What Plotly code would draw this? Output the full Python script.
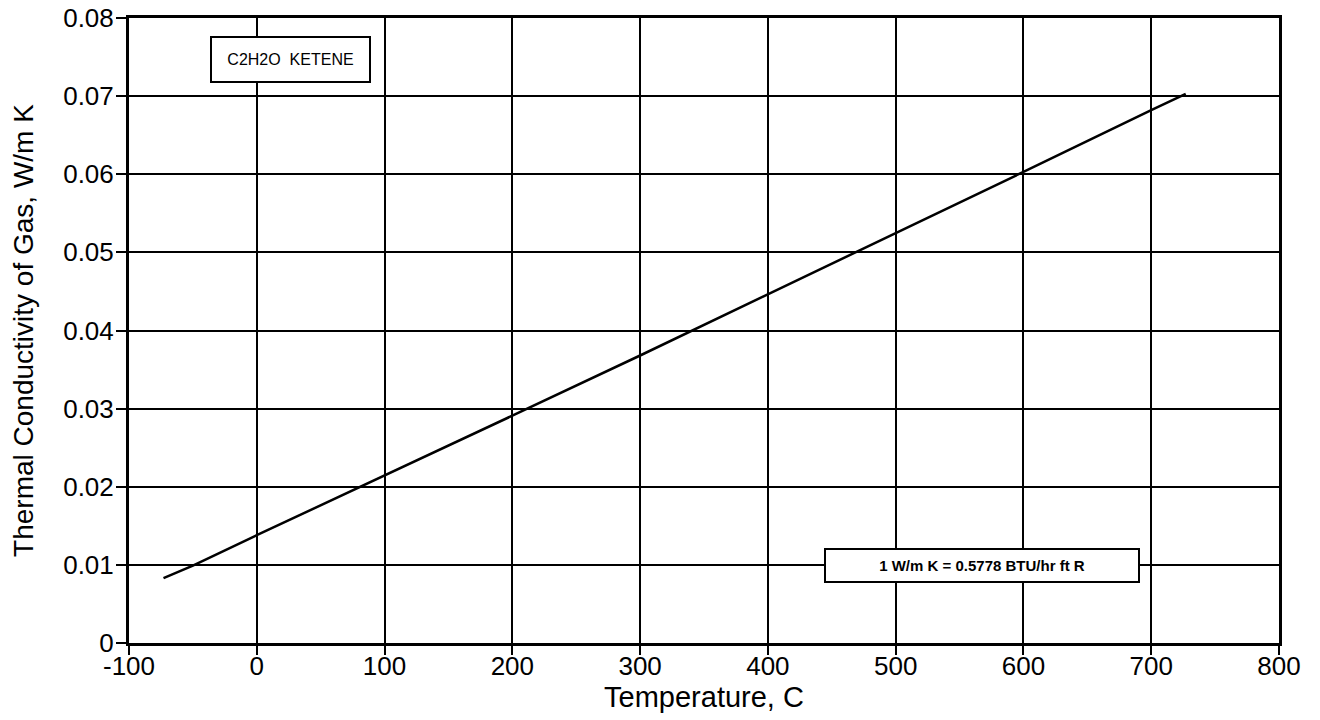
import plotly.graph_objects as go

# Data
temperature_c = [-73, -50, 0, 100, 200, 300, 400, 500, 600, 700, 727]
conductivity = [0.0083, 0.0099, 0.0138, 0.0214, 0.0291, 0.0368, 0.0446, 0.0524, 0.0603, 0.0682, 0.0703]

x_ticks = [-100, 0, 100, 200, 300, 400, 500, 600, 700, 800]
x_tick_labels = ["-100", "0", "100", "200", "300", "400", "500", "600", "700", "800"]
y_ticks = [0, 0.01, 0.02, 0.03, 0.04, 0.05, 0.06, 0.07, 0.08]
y_tick_labels = ["0", "0.01", "0.02", "0.03", "0.04", "0.05", "0.06", "0.07", "0.08"]

title_label = "C2H2O  KETENE"
conversion_label = "1 W/m K = 0.5778 BTU/hr ft R"

font_family = "Liberation Sans, Arial, Helvetica, sans-serif"

fig = go.Figure()
fig.add_trace(go.Scatter(
    x=temperature_c, y=conductivity, mode="lines",
    line=dict(color="black", width=2.5), showlegend=False,
))

fig.update_layout(
    width=1312, height=712,
    margin=dict(l=121, r=41, t=10, b=77, autoexpand=False),
    paper_bgcolor="white", plot_bgcolor="white",
    font=dict(family=font_family, color="black", size=26),
)
fig.update_xaxes(
    range=[-100, 800], tickvals=x_ticks, ticktext=x_tick_labels,
    showgrid=True, gridcolor="black", gridwidth=2,
    showline=True, linecolor="black", linewidth=3, mirror=True,
    ticks="outside", ticklen=9, tickwidth=2, tickcolor="black",
    tickfont=dict(size=26), zeroline=False, automargin=False,
    ticklabelstandoff=-11, ticklabeloverflow="allow",
    title=dict(text="Temperature, C", font=dict(size=29), standoff=0),
)
fig.update_yaxes(
    range=[0, 0.08], tickvals=y_ticks, ticktext=y_tick_labels,
    showgrid=True, gridcolor="black", gridwidth=2,
    showline=True, linecolor="black", linewidth=3, mirror=True,
    ticks="outside", ticklen=10, tickwidth=2, tickcolor="black",
    tickfont=dict(size=26), zeroline=False, automargin=False,
    ticklabelstandoff=-3, ticklabeloverflow="allow",
    title=dict(text="Thermal Conductivity of Gas, W/m K", font=dict(size=28), standoff=29),
)

fig.add_annotation(
    x=26.4, y=0.0747, xref="x", yref="y", text=title_label, showarrow=False,
    font=dict(size=16, family=font_family), bgcolor="white",
    bordercolor="black", borderwidth=2, width=155, height=41,
)
fig.add_annotation(
    x=567.6, y=0.0099, xref="x", yref="y", text="<b>" + conversion_label + "</b>", showarrow=False,
    font=dict(size=15, family=font_family), bgcolor="white",
    bordercolor="black", borderwidth=2, width=310, height=29,
)

fig.write_html("out.html")
